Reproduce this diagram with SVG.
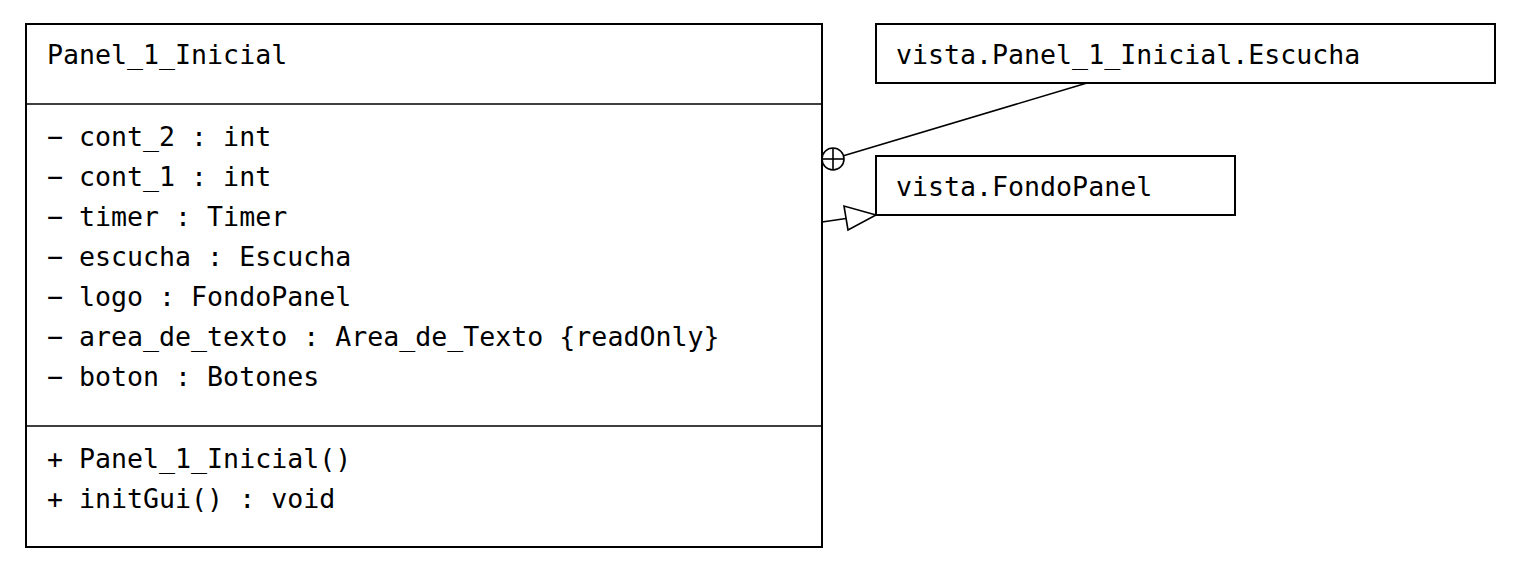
<svg xmlns="http://www.w3.org/2000/svg" width="1530" height="576" viewBox="0 0 1530 576">
<style>
.box{fill:#fff;stroke:#000;stroke-width:2}
.ln{fill:none;stroke:#000;stroke-width:1.6}
text{font-family:"DejaVu Sans Mono","Liberation Mono",monospace;font-size:26.6px;fill:#000}
</style>
<rect width="1530" height="576" fill="#fff"/>
<g id="Panel_1_Inicial">
<rect class="box" x="26" y="24" width="796" height="523"/>
<line class="ln" x1="26" y1="104" x2="822" y2="104" stroke-width="2"/>
<line class="ln" x1="26" y1="426" x2="822" y2="426" stroke-width="2"/>
<text x="47" y="64">Panel_1_Inicial</text>
<text x="47" y="146">− cont_2 : int</text>
<text x="47" y="186">− cont_1 : int</text>
<text x="47" y="226">− timer : Timer</text>
<text x="47" y="266">− escucha : Escucha</text>
<text x="47" y="306">− logo : FondoPanel</text>
<text x="47" y="346">− area_de_texto : Area_de_Texto {readOnly}</text>
<text x="47" y="386">− boton : Botones</text>
<text x="47" y="468">+ Panel_1_Inicial()</text>
<text x="47" y="508">+ initGui() : void</text>
</g>
<g id="Escucha">
<rect class="box" x="876" y="24" width="619" height="59"/>
<text x="896" y="64">vista.Panel_1_Inicial.Escucha</text>
</g>
<g id="FondoPanel">
<rect class="box" x="876" y="156" width="359" height="59"/>
<text x="896" y="196">vista.FondoPanel</text>
</g>
<g id="connectors">
<line class="ln" x1="1087" y1="83" x2="843.5" y2="155.8"/>
<circle class="ln" cx="833" cy="159" r="11"/>
<line class="ln" x1="822" y1="159" x2="844" y2="159"/>
<line class="ln" x1="833" y1="148" x2="833" y2="170"/>
<line class="ln" x1="822" y1="222" x2="846" y2="218.5"/>
<polygon class="ln" points="844,206 848,230 876,215"/>
</g>
</svg>
